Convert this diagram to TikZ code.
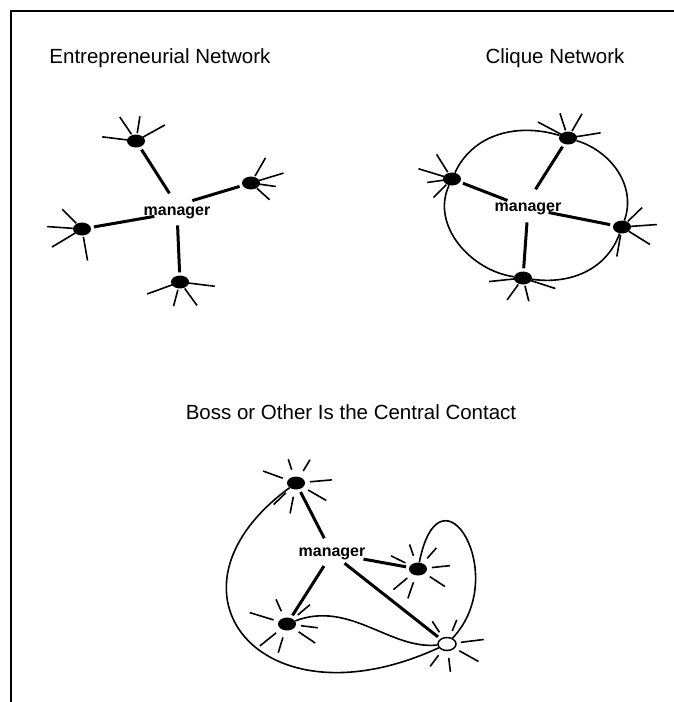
\documentclass[tikz,border=0pt]{standalone}
\usepackage{fontspec}
\setmainfont{Liberation Sans}
\usetikzlibrary{shapes.geometric}

% short strokes round a contact
\newcommand{\spokes}[3]{%
  \foreach \a/\l in {#3} \draw[ray, shift={(#1)}] (\a:#2) -- (\a:\l);}

\begin{document}
\begin{tikzpicture}[x=1pt, y=1pt,
  dot/.style={ellipse, fill=black, minimum width=18pt, minimum height=13pt, inner sep=0pt},
  hollow/.style={ellipse, draw=black, fill=white, line width=1.5pt, minimum width=18pt, minimum height=13pt, inner sep=0pt},
  hub/.style={font=\fontsize{16}{16}\selectfont\bfseries, inner sep=1pt},
  title/.style={font=\fontsize{20.5}{22}\selectfont, anchor=base},
  link/.style={line width=3pt, shorten <=3pt},
  ray/.style={line width=1.6pt},
  loop/.style={line width=1.6pt}]

  % Page size and frame
  \useasboundingbox (0,0) rectangle (674,-702);
  \draw[line width=2.8pt] (674,-11) -- (11,-11) -- (11,-702);

  % Titles
  \node[title] (t1) at (160,-63) {Entrepreneurial Network};
  \node[title] (t2) at (555,-63) {Clique Network};
  \node[title] (t3) at (351,-419) {Boss or Other Is the Central Contact};

  % Entrepreneurial network
  \node[dot] (et) at (136,-141) {};
  \node[dot] (er) at (251,-183) {};
  \node[dot] (el) at (82,-229) {};
  \node[dot] (eb) at (180,-282) {};
  \node[hub, anchor=base] (em) at (177,-215) {manager};

  \draw[link, shorten >=14pt] (et) -- (em.north);
  \draw[link, shorten >=16pt] (er) -- (em.north);
  \draw[link, shorten >=23pt] (el) -- (em.center);
  \draw[link, shorten >=13pt] (eb) -- (em.center);

  \spokes{et}{8}{173/34, 124/29, 81/25, 29/33}
  \spokes{er}{8}{60/29, 17/34, -8/25, -42/25}
  \spokes{el}{8}{135/28, 176/35, 211/35, -80/32}
  \spokes{eb}{8}{200/35, 255/25, -54/29, -7/35}

  % Clique network
  \node[dot] (ct) at (568,-138) {};
  \node[dot] (cl) at (452,-179) {};
  \node[dot] (cr) at (622,-227) {};
  \node[dot] (cb) at (523,-278) {};
  \node[hub, anchor=base] (cm) at (528,-211) {manager};

  \draw[link, shorten >=14pt] (ct) -- (cm.north);
  \draw[link, shorten >=22pt] (cl) -- (cm.center);
  \draw[link, shorten >=21pt] (cr) -- (cm.center);
  \draw[link, shorten >=14pt] (cb) -- (cm.center);

  \draw[loop] (cl) to[out=65, in=163] (ct) to[out=-17, in=70] (cr)
    to[out=250, in=-8] (cb) to[out=172, in=245] (cl);

  \spokes{ct}{8}{152/34, 108/26, 60/28, 9/33}
  \spokes{cl}{8}{122/29, 163/35, 188/25, 225/26}
  \spokes{cr}{8}{44/28, 4/35, -32/33, -100/30}
  \spokes{cb}{8}{186/34, 234/27, -76/24, -18/34}

  % Boss or other as central contact
  \node[dot] (bt) at (296,-483) {};
  \node[dot] (br) at (418,-569) {};
  \node[dot] (bl) at (287,-624) {};
  \node[hollow] (bo) at (447,-644) {};
  \node[hub, anchor=base] (bm) at (332,-556) {manager};

  \draw[link, shorten >=17pt] (bt) -- (bm.center);
  \draw[link, shorten >=32pt] (br) -- (bm.center);
  \draw[link, shorten >=15pt] (bl) -- (bm.center);
  \draw[link, shorten >=16pt] (bo) -- (bm.center);

  \draw[loop] (bl) .. controls (350,-600) and (390,-650) .. (bo);
  \draw[loop] (bt) .. controls (150,-590) and (260,-730) .. (bo);
  \draw[loop] (br) .. controls (440,-458) and (512,-575) .. (bo);

  \spokes{bt}{14}{160/35, 108/25, 59/27, 5/36, -30/35, -101/31, -136/31}
  \spokes{br}{14}{154/30, 109/26, 49/28, 6/32, -33/32, -109/31, -140/32}
  \spokes{bl}{14}{163/39, 114/27, 40/30, -7/31, -34/34, -107/30, -141/35}
  \spokes{bo}{14}{123/27, 68/26, 7/37, -29/36, -83/28, -127/28}

\end{tikzpicture}
\end{document}
